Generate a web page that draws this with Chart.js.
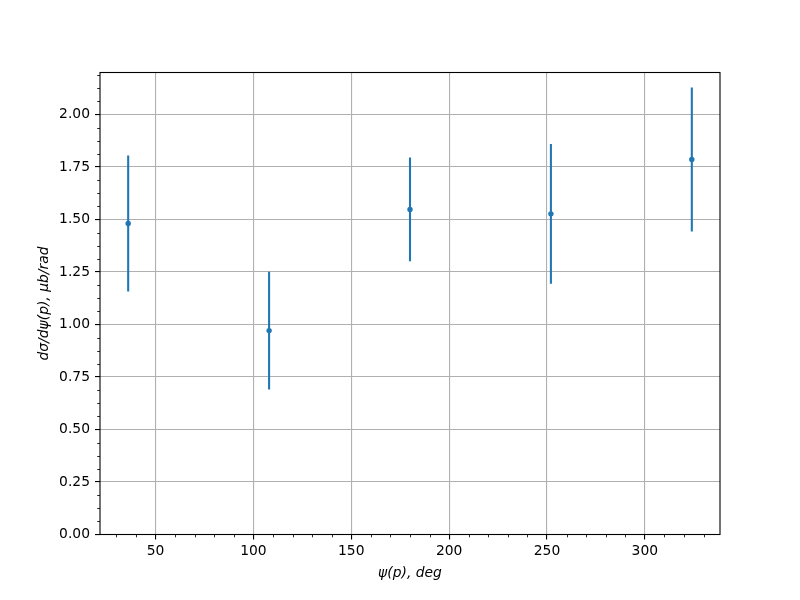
<!DOCTYPE html>
<html>
<head>
<meta charset="utf-8">
<script src="https://cdn.jsdelivr.net/npm/chart.js@4/dist/chart.umd.min.js"></script>
<style>
  html, body { margin: 0; padding: 0; background: #fff; }
  #wrap { width: 800px; height: 600px; }
</style>
</head>
<body>
<div id="wrap"><canvas id="c" width="800" height="600"></canvas></div>
<script>
const xValues = [36, 108, 180, 252, 324];
const yValues = [1.481, 0.971, 1.548, 1.527, 1.786];
const yErrors = [0.324, 0.280, 0.247, 0.333, 0.343];
const xTicks = [50, 100, 150, 200, 250, 300];
const yTicks = [0, 0.25, 0.5, 0.75, 1.0, 1.25, 1.5, 1.75, 2.0];
const xRange = [21.6, 338.4];
const yRange = [0, 2.2];
const xMinorStep = 10;
const yMinorStep = 0.0625;

const BLUE = '#1f77b4';
const FONT = 'DejaVu Sans';
const FS = 13.89;

const datasets = [];
xValues.forEach((x, i) => {
  datasets.push({
    data: [{x: x, y: yValues[i] - yErrors[i]}, {x: x, y: yValues[i] + yErrors[i]}],
    showLine: true,
    borderColor: BLUE,
    borderWidth: 2.08,
    pointRadius: 0,
    fill: false
  });
});
datasets.push({
  data: xValues.map((x, i) => ({x: x, y: yValues[i]})),
  showLine: false,
  pointRadius: 2.7,
  pointBackgroundColor: BLUE,
  pointBorderWidth: 0,
  borderColor: BLUE
});

const framePlugin = {
  id: 'frame',
  afterDraw(chart) {
    const {ctx, chartArea: a, scales} = chart;
    ctx.save();
    ctx.strokeStyle = '#000';
    ctx.lineWidth = 0.83;
    ctx.beginPath();
    for (let v = Math.ceil(xRange[0] / xMinorStep) * xMinorStep; v <= xRange[1]; v += xMinorStep) {
      if (v % 50 === 0) continue;
      const px = Math.round(scales.x.getPixelForValue(v)) + 0.5;
      ctx.moveTo(px, a.bottom);
      ctx.lineTo(px, a.bottom + 2.8);
    }
    for (let k = 0; k * yMinorStep <= yRange[1] + 1e-9; k++) {
      if (k % 4 === 0) continue;
      const v = k * yMinorStep;
      const py = Math.round(scales.y.getPixelForValue(v)) + 0.5;
      ctx.moveTo(a.left, py);
      ctx.lineTo(a.left - 2.8, py);
    }
    ctx.stroke();
    ctx.lineWidth = 1.1;
    ctx.strokeRect(a.left, a.top, a.right - a.left, a.bottom - a.top);
    ctx.restore();
  }
};

new Chart(document.getElementById('c'), {
  type: 'scatter',
  data: { datasets },
  options: {
    responsive: false,
    animation: false,
    devicePixelRatio: 1,
    layout: { padding: { left: 0, right: 80, top: 72.5, bottom: 0 } },
    plugins: { legend: { display: false }, tooltip: { enabled: false } },
    scales: {
      x: {
        type: 'linear',
        min: xRange[0],
        max: xRange[1],
        afterBuildTicks: s => { s.ticks = xTicks.map(v => ({value: v})); },
        afterFit: s => { s.height = 65.5; },
        grid: { color: '#b0b0b0', lineWidth: 1.1, tickColor: '#000', tickLength: 5, tickWidth: 1.1 },
        border: { display: false },
        ticks: { color: '#000', font: { family: FONT, size: FS }, padding: 4, maxRotation: 0, callback: v => String(v) },
        title: { display: true, text: 'ψ(p), deg', color: '#000', font: { family: FONT, size: FS, style: 'italic' }, padding: { top: 0, bottom: 18 } }
      },
      y: {
        type: 'linear',
        min: yRange[0],
        max: yRange[1],
        afterBuildTicks: s => { s.ticks = yTicks.map(v => ({value: v})); },
        afterFit: s => { s.width = 100; },
        grid: { color: '#b0b0b0', lineWidth: 1.1, tickColor: '#000', tickLength: 5, tickWidth: 1.1 },
        border: { display: false },
        ticks: { color: '#000', font: { family: FONT, size: FS }, padding: 5, callback: v => v.toFixed(2) },
        title: { display: true, text: 'dσ/dψ(p), μb/rad', color: '#000', font: { family: FONT, size: FS, style: 'italic' }, padding: { top: 36, bottom: 0 } }
      }
    }
  },
  plugins: [framePlugin]
});
</script>
</body>
</html>
